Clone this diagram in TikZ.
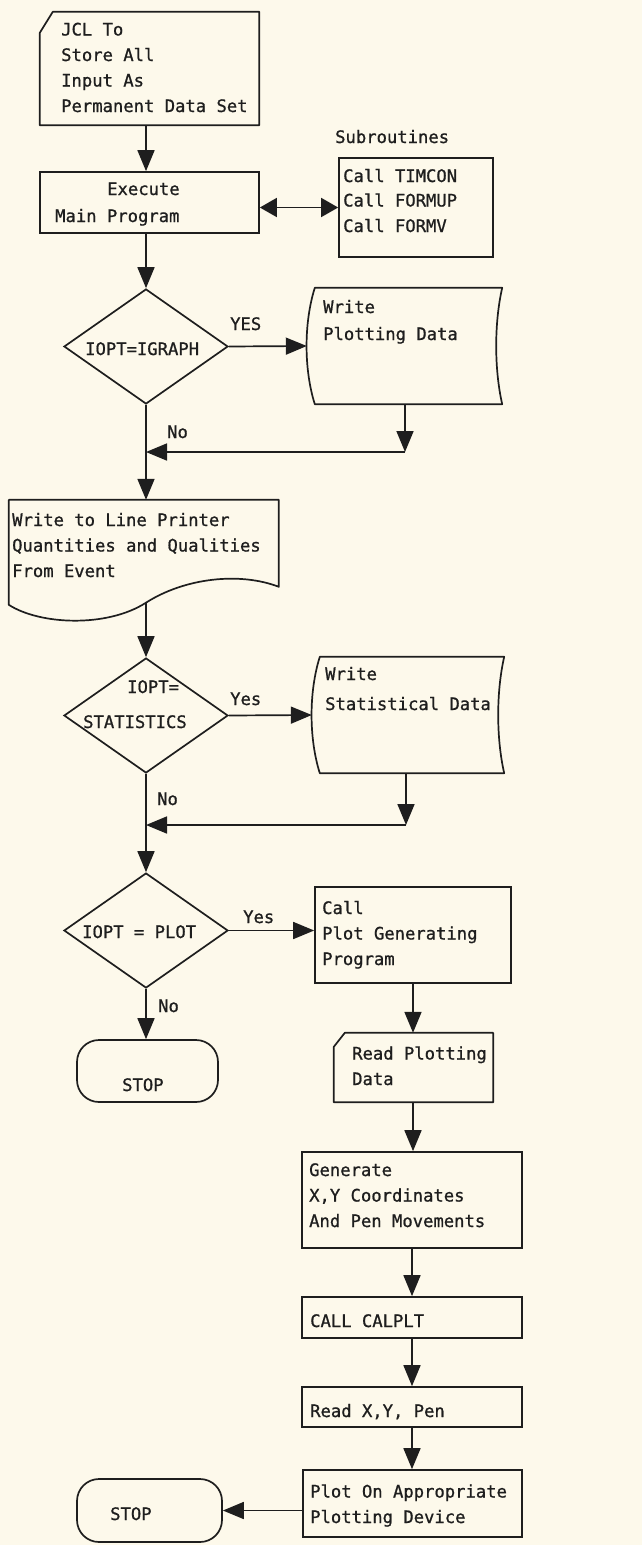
\documentclass[tikz,border=0pt]{standalone}
\usepackage{fontspec}
\setmonofont{DejaVu Sans Mono}[BoldFeatures={FakeBold=0}]
\newfontfamily\typewriter{DejaVu Sans Mono}[FakeBold=0.9]
\usetikzlibrary{arrows.meta,shapes.geometric,calc}
\definecolor{paper}{RGB}{253,249,235}
\definecolor{ink}{RGB}{30,30,30}
\begin{document}
\begin{tikzpicture}[x=1pt,y=-1pt,
  every node/.style={font=\typewriter\fontsize{17.2}{25.5}\selectfont, text=ink},
  box/.style={draw=ink, line width=1.7pt, rectangle, inner sep=0pt},
  frame/.style={draw=none, rectangle, inner sep=0pt},
  outline/.style={draw=ink, line width=1.7pt, line join=round},
  decision/.style={draw=ink, line width=1.7pt, diamond, inner sep=0pt,
                   minimum width=164pt, minimum height=115pt},
  terminal/.style={draw=ink, line width=1.7pt, rectangle, rounded corners=22pt, inner sep=0pt},
  % multi-line texts are placed by the baseline of their last line
  txt/.style={anchor=base west, inner sep=0pt, align=left},
  flow/.style={draw=ink, line width=1.7pt, -{Triangle[length=21pt,width=17pt]}},
  both/.style={draw=ink, line width=1.7pt,
               {Triangle[length=17pt,width=19pt]}-{Triangle[length=17pt,width=19pt]}},
]
% sheet
\fill[paper] (0,0) rectangle (642,1545);
\useasboundingbox (0,0) rectangle (642,1545);

% ---- input card ----
\node[frame, minimum width=219pt, minimum height=113pt] (jcl) at (149.5,68.5) {};
\draw[outline] ($(jcl.north west)+(0,21)$) -- ($(jcl.north west)+(13,0)$) -- (jcl.north east)
  -- (jcl.south east) -- (jcl.south west) -- cycle;
\node[txt] (jclT) at (61,112) {JCL To\\Store All\\Input As\\Permanent Data Set};

% ---- main program ----
\node[box, minimum width=219pt, minimum height=61pt] (exec) at (149.5,202.5) {};
\node[txt] (execT) at (55,222) {\hspace*{52pt}Execute\\[1.5pt]Main Program};

% ---- subroutines ----
\node[box, minimum width=154pt, minimum height=99pt] (sub) at (416,207.5) {};
\node[txt] (subL) at (335,143) {Subroutines};
\node[txt] (subT) at (343,232) {Call TIMCON\\[-1pt]Call FORMUP\\Call FORMV};

% ---- decision 1 ----
\node[decision] (d1) at (146,346.5) {};
\node[txt] (d1T) at (85,355) {IOPT=IGRAPH};
\node[txt] (yes1) at (230,330) {YES};

% ---- stored data: plotting ----
\node[frame, minimum width=187pt, minimum height=116pt] (wpd) at (408.5,346) {};
\draw[outline] (wpd.north west) -- (wpd.north east)
  .. controls ($(wpd.north east)+(-8,35)$) and ($(wpd.south east)+(-8,-35)$) .. (wpd.south east)
  -- (wpd.south west)
  .. controls ($(wpd.south west)+(-11,-35)$) and ($(wpd.north west)+(-11,35)$) .. (wpd.north west)
  -- cycle;
\node[txt] (wpdT) at (323,340) {Write\\[1.5pt]Plotting Data};

% ---- line printer document ----
\node[frame, minimum width=270pt, minimum height=103pt] (lpr) at (144,551.5) {};
\draw[outline, shift={(lpr.north west)}] (0,0) -- (270,0) -- (270,87)
  .. controls (231,72) and (176,78) .. (137,103)
  .. controls (98,128) and (31,125) .. (0,105) -- cycle;
\node[txt] (lprT) at (12,577) {Write to Line Printer\\Quantities and Qualities\\From Event};

% ---- decision 2 ----
\node[decision] (d2) at (146,715.5) {};
\node[txt] (d2a) at (127,693) {IOPT=};
\node[txt] (d2b) at (83,728) {STATISTICS};
\node[txt] (yes2) at (230,705) {Yes};

% ---- stored data: statistics ----
\node[frame, minimum width=184pt, minimum height=116pt] (wsd) at (412,715) {};
\draw[outline] (wsd.north west) -- (wsd.north east)
  .. controls ($(wsd.north east)+(-8,35)$) and ($(wsd.south east)+(-8,-35)$) .. (wsd.south east)
  -- (wsd.south west)
  .. controls ($(wsd.south west)+(-11,-35)$) and ($(wsd.north west)+(-11,35)$) .. (wsd.north west)
  -- cycle;
\node[txt] (wsdT) at (325,710) {Write\\[4.5pt]Statistical Data};

% ---- decision 3 ----
\node[decision] (d3) at (146,930.5) {};
\node[txt] (d3T) at (82,938) {IOPT = PLOT};
\node[txt] (yes3) at (243,923) {Yes};

% ---- plot branch ----
\node[box, minimum width=196pt, minimum height=96pt] (call) at (413,935) {};
\node[txt] (callT) at (322,965) {Call\\Plot Generating\\Program};

\node[frame, minimum width=159pt, minimum height=69pt] (rpd) at (413.5,1067.5) {};
\draw[outline] ($(rpd.north west)+(0,14)$) -- ($(rpd.north west)+(11,0)$) -- (rpd.north east)
  -- (rpd.south east) -- (rpd.south west) -- cycle;
\node[txt] (rpdT) at (352,1085) {Read Plotting\\Data};

\node[box, minimum width=220pt, minimum height=96pt] (gen) at (412,1200) {};
\node[txt] (genT) at (309,1227) {Generate\\X,Y Coordinates\\And Pen Movements};

\node[box, minimum width=220pt, minimum height=41pt] (calplt) at (412,1317.5) {};
\node[txt] (calpltT) at (310,1327) {CALL CALPLT};

\node[box, minimum width=220pt, minimum height=40pt] (rxy) at (412,1407) {};
\node[txt] (rxyT) at (310,1417) {Read X,Y, Pen};

\node[box, minimum width=219pt, minimum height=67pt] (plot) at (412.5,1503.5) {};
\node[txt] (plotT) at (310,1523) {Plot On Appropriate\\Plotting Device};

% ---- terminals ----
\node[terminal, minimum width=141pt, minimum height=62pt] (stop1) at (147.5,1071) {};
\node[txt] (stop1T) at (122,1091) {STOP};
\node[terminal, minimum width=145pt, minimum height=63pt] (stop2) at (149.5,1510.5) {};
\node[txt] (stop2T) at (110,1520) {STOP};

% ---- branch labels ----
\node[txt] (no1) at (167,438) {No};
\node[txt] (no2) at (157,805) {No};
\node[txt] (no3) at (158,1012) {No};

% ---- connectors: main column ----
\draw[flow] (jcl.south -| d1.north) -- (exec.north -| d1.north);
\draw[both] (sub.west -| exec.east) -- (sub.west);
\draw[flow] (exec.south -| d1.north) -- (d1.north);
\draw[flow] (d1.east) -- ($(wpd.west)+(-8,0)$);
\coordinate (m1) at (405,452);
\draw[flow] (wpd.south -| m1) -- (m1);
\draw[flow] (m1) -- (m1 -| d1.south);
\draw[flow] (d1.south) -- (lpr.north -| d1.south);
\draw[flow] (lpr.south -| d2.north) -- (d2.north);
\draw[flow] (d2.east) -- ($(wsd.west)+(-8,0)$);
\coordinate (m2) at (406,825);
\draw[flow] (wsd.south -| m2) -- (m2);
\draw[flow] (m2) -- (m2 -| d2.south);
\draw[flow] (d2.south) -- (d3.north);
\draw[flow] (d3.east) -- (d3.east -| call.west);
\draw[flow] (d3.south) -- (d3.south |- stop1.north);

% ---- connectors: plot column ----
\draw[flow] (call.south) -- (call.south |- rpd.north);
\draw[flow] (rpd.south -| call.south) -- (call.south |- gen.north);
\draw[flow] (gen.south) -- (calplt.north);
\draw[flow] (calplt.south) -- (rxy.north);
\draw[flow] (rxy.south) -- (rxy.south |- plot.north);
\draw[flow] (stop2.east -| plot.west) -- (stop2.east);
\end{tikzpicture}
\end{document}
